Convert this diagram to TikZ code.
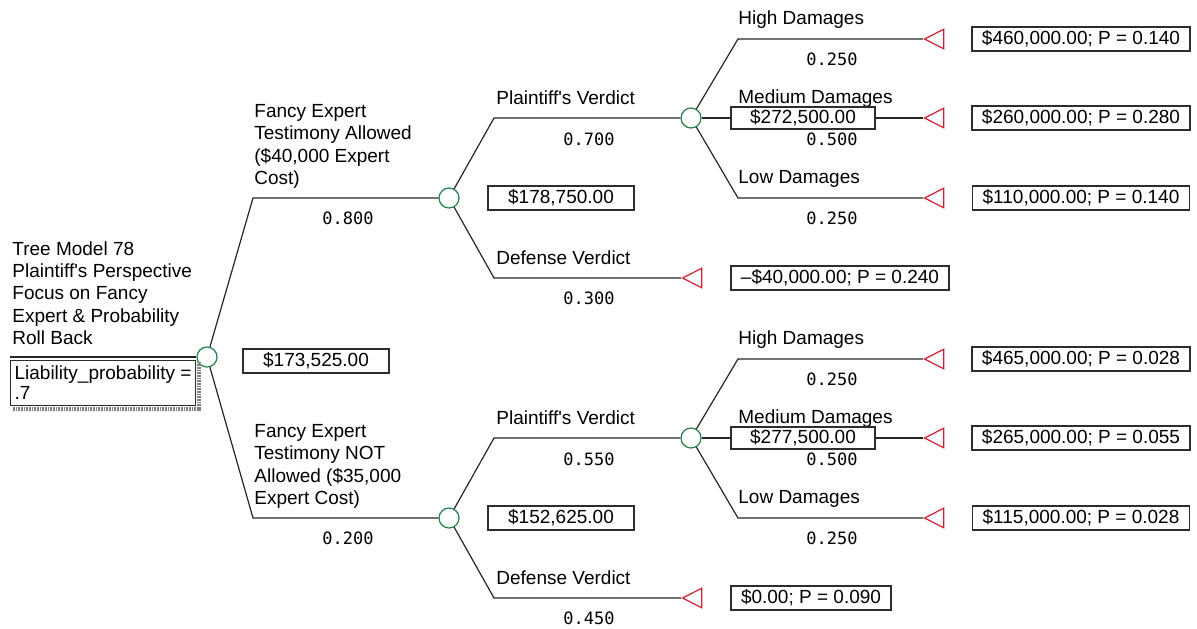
\documentclass[tikz,border=0pt]{standalone}
\usepackage{fontspec}
\setmainfont{Liberation Sans}
\newfontfamily\probfont{DejaVu Sans Mono}
\usetikzlibrary{shapes.geometric}
\definecolor{chancegreen}{RGB}{34,128,72}
\definecolor{termred}{RGB}{212,30,52}
\definecolor{boxgray}{RGB}{45,45,45}

\begin{document}
\begin{tikzpicture}[x=0.5pt,y=-0.5pt,
    every node/.style={font=\fontsize{9.5}{11.2}\selectfont},
    branch/.style={draw=black!85,line width=0.6pt},
    chance/.style={circle,draw=chancegreen,fill=white,line width=0.6pt,minimum size=10pt,inner sep=0pt},
    terminal/.style={isosceles triangle,isosceles triangle stretches,shape border rotate=180,
        draw=termred,fill=white,line width=0.6pt,minimum width=9.8pt,minimum height=9.6pt,inner sep=0pt,anchor=apex},
    lbl/.style={anchor=base west,inner sep=0pt},
    multilbl/.style={anchor=north west,inner sep=0pt,align=left},
    prob/.style={font=\probfont\fontsize{8.5}{10}\selectfont,inner sep=0pt},
    valbox/.style={draw=boxgray,line width=0.6pt,fill=white,minimum width=73pt,minimum height=12pt,inner sep=0pt},
    payoff/.style={draw=boxgray,line width=0.6pt,fill=white,minimum height=12pt,inner xsep=5pt,inner ysep=0pt}]

   \useasboundingbox (0,0) rectangle (1197,628);

   % root of the tree
   \node[multilbl] (title) at (12,241) {Tree Model 78\\Plaintiff\textquotesingle s Perspective\\Focus on Fancy\\Expert \& Probability\\Roll Back};
   \node[chance] (root) at (207,357) {};
   \coordinate (rootin) at (10,357);
   \draw[branch] (rootin) -- (root);
   \node[draw=boxgray,line width=0.6pt,fill=white,anchor=north west,align=left,minimum width=91pt,
         minimum height=22.5pt,inner xsep=2pt,inner ysep=1pt,font=\fontsize{9.5}{10}\selectfont]
         (liab) at (10,360) {Liability\_probability =\\.7};
   \draw[gray,line width=2pt,dash pattern=on 0.4pt off 0.4pt]
         ([xshift=1.3pt,yshift=-1pt]liab.north east) |- ([xshift=1pt,yshift=-1.3pt]liab.south west);
   \node[valbox] (ev0) at (316,361) {\$173,525.00};

   % expert allowed
   \begin{scope}
     \coordinate (ca) at (253,198);
     \node[chance] (na) at (449,198) {};
     \draw[branch] (root) -- (ca) -- (na);
     \node[multilbl] at (254,104) {Fancy Expert\\Testimony Allowed\\(\$40,000 Expert\\Cost)};
     \node[prob] at (348,218) {0.800};
     \node[valbox] (eva) at (561,198) {\$178,750.00};

     \coordinate (cpa) at (494,118);
     \node[chance] (npa) at (691,118) {};
     \draw[branch] (na) -- (cpa) -- (npa);
     \node[lbl] at (496,104) {Plaintiff\textquotesingle s Verdict};
     \node[prob] at (589,139) {0.700};

     \coordinate (cda) at (494,278);
     \node[terminal] (tda) at (681,278) {};
     \draw[branch] (na) -- (cda) -- (tda.apex);
     \node[lbl] at (496,264) {Defense Verdict};
     \node[prob] at (589,298) {0.300};
     \node[payoff] (pda) at (840,278) {\textendash\$40,000.00; P = 0.240};

     % damages
     \coordinate (cha) at (738,39);
     \node[terminal] (tha) at (923,39) {};
     \draw[branch] (npa) -- (cha) -- (tha.apex);
     \node[lbl] at (738,24) {High Damages};
     \node[prob] at (832,59) {0.250};
     \node[payoff] (pha) at (1081,39) {\$460,000.00; P = 0.140};

     \node[terminal] (tma) at (923,118) {};
     \draw[branch] (npa) -- (tma.apex);
     \node[lbl] at (738,103) {Medium Damages};
     \node[valbox,minimum width=72pt,minimum height=11pt] (evpa) at (803,118) {\$272,500.00};
     \node[prob] at (832,139) {0.500};
     \node[payoff] (pma) at (1081,118) {\$260,000.00; P = 0.280};

     \coordinate (cla) at (738,198);
     \node[terminal] (tla) at (923,198) {};
     \draw[branch] (npa) -- (cla) -- (tla.apex);
     \node[lbl] at (738,183) {Low Damages};
     \node[prob] at (832,218) {0.250};
     \node[payoff] (pla) at (1081,198) {\$110,000.00; P = 0.140};
   \end{scope}

   % expert not allowed
   \begin{scope}[yshift=-160pt]
     \coordinate (cb) at (253,198);
     \node[chance] (nb) at (449,198) {};
     \draw[branch] (root) -- (cb) -- (nb);
     \node[multilbl] at (254,104) {Fancy Expert\\Testimony NOT\\Allowed (\$35,000\\Expert Cost)};
     \node[prob] at (348,218) {0.200};
     \node[valbox] (evb) at (561,198) {\$152,625.00};

     \coordinate (cpb) at (494,118);
     \node[chance] (npb) at (691,118) {};
     \draw[branch] (nb) -- (cpb) -- (npb);
     \node[lbl] at (496,104) {Plaintiff\textquotesingle s Verdict};
     \node[prob] at (589,139) {0.550};

     \coordinate (cdb) at (494,278);
     \node[terminal] (tdb) at (681,278) {};
     \draw[branch] (nb) -- (cdb) -- (tdb.apex);
     \node[lbl] at (496,264) {Defense Verdict};
     \node[prob] at (589,298) {0.450};
     \node[payoff] (pdb) at (811,278) {\$0.00; P = 0.090};

     % damages
     \coordinate (chb) at (738,39);
     \node[terminal] (thb) at (923,39) {};
     \draw[branch] (npb) -- (chb) -- (thb.apex);
     \node[lbl] at (738,24) {High Damages};
     \node[prob] at (832,59) {0.250};
     \node[payoff] (phb) at (1081,39) {\$465,000.00; P = 0.028};

     \node[terminal] (tmb) at (923,118) {};
     \draw[branch] (npb) -- (tmb.apex);
     \node[lbl] at (738,103) {Medium Damages};
     \node[valbox,minimum width=72pt,minimum height=11pt] (evpb) at (803,118) {\$277,500.00};
     \node[prob] at (832,139) {0.500};
     \node[payoff] (pmb) at (1081,118) {\$265,000.00; P = 0.055};

     \coordinate (clb) at (738,198);
     \node[terminal] (tlb) at (923,198) {};
     \draw[branch] (npb) -- (clb) -- (tlb.apex);
     \node[lbl] at (738,183) {Low Damages};
     \node[prob] at (832,218) {0.250};
     \node[payoff] (plb) at (1081,198) {\$115,000.00; P = 0.028};
   \end{scope}
\end{tikzpicture}
\end{document}
